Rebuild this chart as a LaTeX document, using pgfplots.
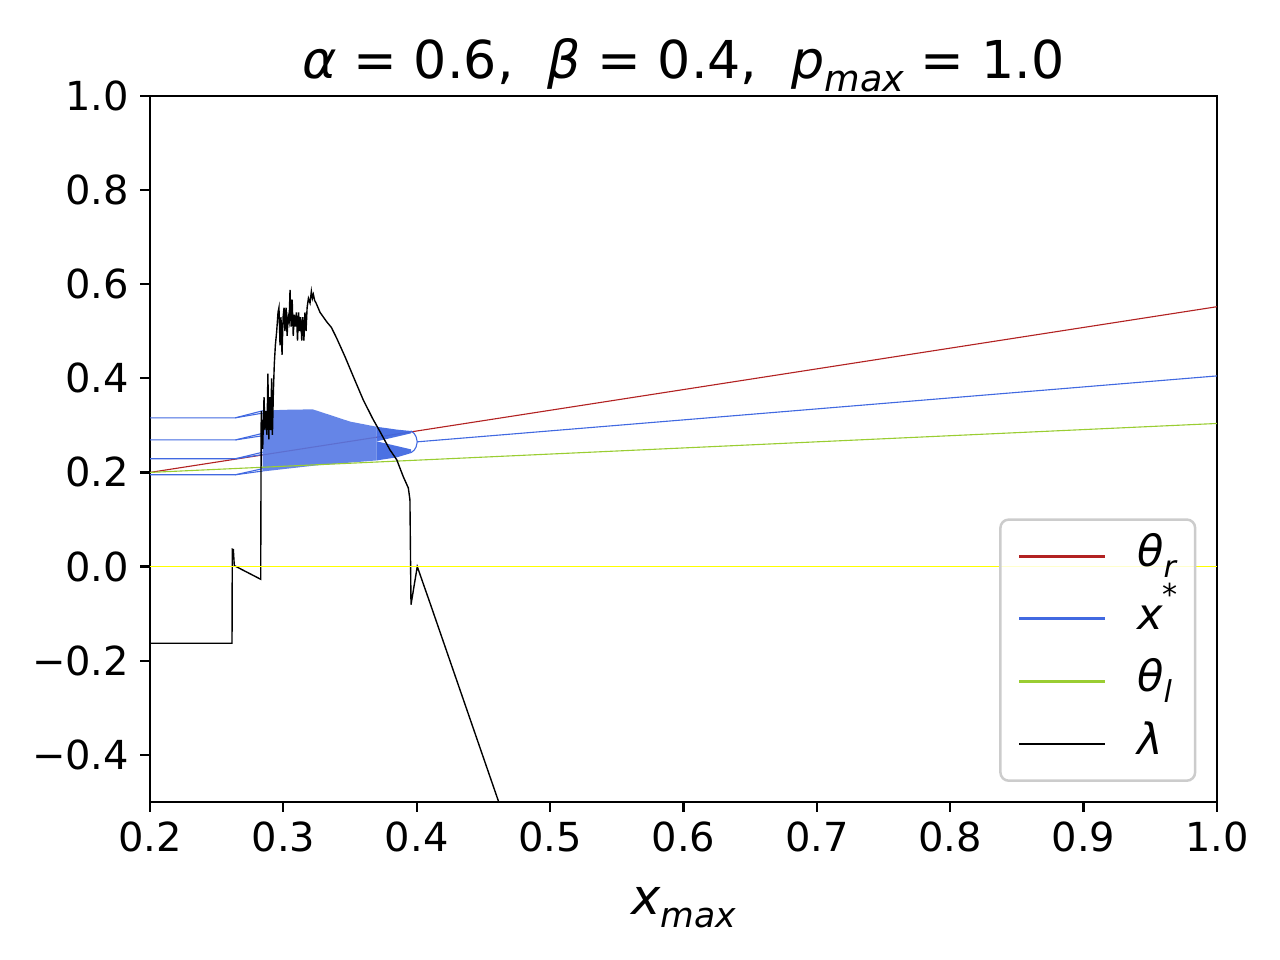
\documentclass[border=0pt]{standalone}
\usepackage{fontspec}
\setmainfont{DejaVu Sans}
\usepackage{graphicx}
\usepackage{pgfplots}
\pgfplotsset{compat=1.18}
\definecolor{firebrick}{RGB}{178,34,34}
\definecolor{royalblue}{RGB}{65,105,225}
\definecolor{yellowgreen}{RGB}{154,205,50}
\definecolor{pureyellow}{RGB}{255,255,0}
\newcommand{\sbs}[1]{\raisebox{-0.25em}{\scalebox{0.7}{\itshape #1}}}
\newcommand{\sps}[1]{\raisebox{0.55em}{\scalebox{0.7}{#1}}}
\begin{document}
\begin{tikzpicture}
\path[use as bounding box] (0,0) rectangle (460.8pt,345.6pt);
\begin{axis}[
  at={(54pt,56.9pt)}, anchor=south west,
  scale only axis, width=384.1pt, height=254.2pt,
  xmin=0.2, xmax=1.0, ymin=-0.5, ymax=1.0,
  axis line style={line width=0.8pt},
  every tick/.style={line width=0.8pt, black},
  major tick length=3.5pt,
  tick align=outside,
  xtick pos=lower, ytick pos=left,
  xtick={0.2,0.3,0.4,0.5,0.6,0.7,0.8,0.9,1.0},
  xticklabels={0.2,0.3,0.4,0.5,0.6,0.7,0.8,0.9,1.0},
  ytick={-0.4,-0.2,0,0.2,0.4,0.6,0.8,1.0},
  yticklabels={−0.4,−0.2,0.0,0.2,0.4,0.6,0.8,1.0},
  ticklabel style={font=\fontsize{14.4}{17}\selectfont},
  xticklabel style={anchor=base, inner sep=0pt, yshift=-14.5pt},
  yticklabel style={anchor=east, inner sep=0pt, xshift=-3.8pt},
  title={{\itshape α} = 0.6,\hspace{0.65em}{\itshape β} = 0.4,\hspace{0.65em}{\itshape p}\sbs{max} = 1.0},
  title style={at={(axis description cs:0.5,1)}, anchor=base, yshift=0.4pt, inner sep=0pt, font=\fontsize{18.8}{22}\selectfont},
  xlabel={{\itshape x}\sbs{max}},
  xlabel style={at={(axis description cs:0.5,0)}, anchor=base, yshift=-40.7pt, inner sep=0pt, font=\fontsize{17.8}{20}\selectfont},
  legend image code/.code={\draw[#1] (0pt,0pt) -- (31pt,0pt);},
  legend cell align=left,
  legend style={at={(axis description cs:1,0)}, anchor=south east, xshift=-7.4pt, yshift=7.2pt,
    draw=black!20, line width=0.9pt, rounded corners=3pt, fill=white, fill opacity=0.8, text opacity=1,
    font=\fontsize{15.5}{18}\selectfont, inner xsep=6.2pt, inner ysep=6.0pt, row sep=8.0pt, column sep=11pt,
    nodes={text height=11pt, text depth=3.5pt, inner sep=0pt}},
]
% theta_r
\addplot[firebrick, line width=0.4pt, forget plot] coordinates {(0.2,0.2) (1.0,0.552)};
% x* : period-4 orbit lines (left)
\addplot[royalblue, line width=0.4pt, forget plot] coordinates {(0.2,0.316) (0.264,0.316) (0.2845,0.331)};
\addplot[royalblue, line width=0.4pt, forget plot] coordinates {(0.264,0.316) (0.2845,0.326)};
\addplot[royalblue, line width=0.4pt, forget plot] coordinates {(0.2,0.269) (0.264,0.269) (0.2845,0.283)};
\addplot[royalblue, line width=0.4pt, forget plot] coordinates {(0.264,0.269) (0.2845,0.278)};
\addplot[royalblue, line width=0.4pt, forget plot] coordinates {(0.2,0.229) (0.264,0.229) (0.2845,0.243)};
\addplot[royalblue, line width=0.4pt, forget plot] coordinates {(0.264,0.229) (0.2845,0.238)};
\addplot[royalblue, line width=0.4pt, forget plot] coordinates {(0.2,0.195) (0.264,0.195) (0.2845,0.208)};
\addplot[royalblue, line width=0.4pt, forget plot] coordinates {(0.264,0.195) (0.2845,0.203)};
% x* : chaotic band
\addplot[draw=none, fill=royalblue!90!white, fill opacity=0.9, forget plot] coordinates {
  (0.2845,0.331) (0.300,0.333) (0.322,0.334) (0.335,0.322) (0.350,0.308) (0.370,0.297)
  (0.370,0.2255) (0.355,0.222) (0.325,0.215) (0.300,0.207) (0.2845,0.202)} -- cycle;
\addplot[draw=none, fill=royalblue, fill opacity=0.95, forget plot] coordinates {
  (0.370,0.297) (0.385,0.291) (0.3957,0.288) (0.3957,0.283) (0.370,0.266)} -- cycle;
\addplot[draw=none, fill=royalblue, fill opacity=0.95, forget plot] coordinates {
  (0.370,0.266) (0.3957,0.249) (0.3957,0.241) (0.385,0.232) (0.370,0.2255)} -- cycle;
% x* : period-2 closing and single branch
\addplot[royalblue, line width=0.4pt, forget plot] coordinates {(0.3957,0.288) (0.398,0.283) (0.3995,0.276) (0.4004,0.265)};
\addplot[royalblue, line width=0.4pt, forget plot] coordinates {(0.3957,0.242) (0.398,0.247) (0.3995,0.254) (0.4004,0.265)};
\addplot[royalblue, line width=0.4pt, forget plot] coordinates {(0.4004,0.265) (1.0,0.405)};
% theta_l
\addplot[yellowgreen, line width=0.4pt, forget plot] coordinates {(0.2,0.2) (1.0,0.304)};
% lambda
\addplot[black, line width=0.5pt, forget plot] coordinates {
(0.2,-0.163) (0.2615,-0.163) (0.2617,0.037) (0.2625,0.036) (0.2632,0.002) (0.2830,-0.027)
(0.2834,0.330) (0.2845,0.25) (0.2855,0.36) (0.2862,0.29) (0.2870,0.33) (0.2877,0.28)
(0.2884,0.41) (0.2891,0.27) (0.2898,0.36) (0.2905,0.29) (0.2912,0.40) (0.2918,0.28)
(0.2925,0.37) (0.2932,0.43) (0.2940,0.47) (0.2950,0.50) (0.2960,0.54) (0.2967,0.55)
(0.2975,0.47) (0.2982,0.53) (0.2990,0.45) (0.2998,0.53) (0.3005,0.55) (0.3012,0.50)
(0.3020,0.55) (0.3028,0.49) (0.3036,0.53) (0.3043,0.52) (0.3050,0.588) (0.3058,0.51)
(0.3066,0.567) (0.3074,0.49) (0.3082,0.535) (0.3090,0.51) (0.3098,0.54) (0.3106,0.48)
(0.3114,0.54) (0.3122,0.50) (0.3130,0.53) (0.3138,0.48) (0.3146,0.53) (0.3154,0.48)
(0.3162,0.54) (0.3170,0.50) (0.3178,0.55) (0.3188,0.57) (0.3200,0.56) (0.3210,0.585)
(0.3218,0.570) (0.3225,0.578) (0.3235,0.565) (0.3245,0.560) (0.3275,0.540) (0.3325,0.520)
(0.3360,0.508) (0.3400,0.485) (0.3462,0.446) (0.3524,0.404) (0.3599,0.354) (0.3674,0.312) (0.3724,0.287)
(0.3799,0.248) (0.3850,0.227) (0.3899,0.191) (0.3937,0.167) (0.3949,0.142) (0.3957,-0.081)
(0.4004,0.0) (0.4099,-0.077) (0.47,-0.57)};
% zero line
\addplot[pureyellow, line width=0.45pt, forget plot] coordinates {(0.2,0) (1.0,0)};
% legend
\addlegendimage{firebrick, line width=1.1pt}
\addlegendentry{{\itshape θ}\sbs{r}}
\addlegendimage{royalblue, line width=1.1pt}
\addlegendentry{{\itshape x}\sps{*}}
\addlegendimage{yellowgreen, line width=1.1pt}
\addlegendentry{{\itshape θ}\sbs{l}}
\addlegendimage{black, line width=0.5pt}
\addlegendentry{{\itshape λ}}
\end{axis}
\end{tikzpicture}
\end{document}
